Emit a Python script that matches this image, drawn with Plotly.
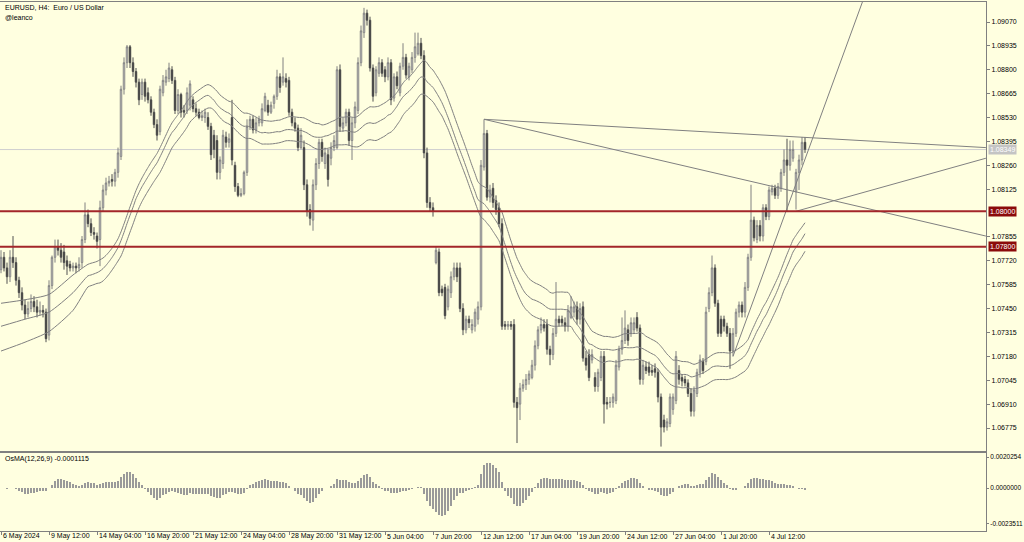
import plotly.graph_objects as go
import pandas as pd

# ---------------- data (EURUSD H4) ----------------
opens = [1.0767,1.0774,1.0768,1.0763,1.0774,1.0771,1.0761,1.0754,1.0747,1.0742,
 1.0745,1.0749,1.0746,1.0743,1.0744,1.0743,1.0730,1.0758,1.0774,1.0780,
 1.0778,1.0777,1.0772,1.0770,1.0768,1.0769,1.0768,1.0771,1.0784,1.0798,
 1.0793,1.0788,1.0786,1.0784,1.0802,1.0812,1.0816,1.0818,1.0817,1.0822,
 1.0831,1.0869,1.0884,1.0893,1.0884,1.0879,1.0873,1.0866,1.0873,1.0867,
 1.0863,1.0856,1.0849,1.0845,1.0867,1.0873,1.0875,1.0880,1.0874,1.0857,
 1.0866,1.0857,1.0857,1.0860,1.0863,1.0858,1.0856,1.0853,1.0853,1.0853,
 1.0848,1.0843,1.0840,1.0822,1.0827,1.0842,1.0839,1.0853,1.0826,1.0814,
 1.0809,1.0810,1.0822,1.0848,1.0852,1.0846,1.0850,1.0850,1.0857,1.0860,
 1.0856,1.0861,1.0865,1.0876,1.0873,1.0875,1.0874,1.0856,1.0850,1.0847,
 1.0836,1.0836,1.0815,1.0801,1.0795,1.0815,1.0827,1.0839,1.0827,1.0832,
 1.0830,1.0836,1.0836,1.0880,1.0847,1.0850,1.0856,1.0840,1.0850,1.0857,
 1.0884,1.0901,1.0912,1.0908,1.0881,1.0867,1.0878,1.0884,1.0880,1.0876,
 1.0884,1.0864,1.0876,1.0867,1.0882,1.0887,1.0876,1.0880,1.0887,1.0889,
 1.0895,1.0888,1.0833,1.0805,1.0802,1.0771,1.0777,1.0756,1.0757,1.0746,
 1.0754,1.0763,1.0768,1.0768,1.0745,1.0733,1.0739,1.0733,1.0735,1.0739,
 1.0746,1.0825,1.0844,1.0808,1.0813,1.0806,1.0802,1.0793,1.0736,1.0735,
 1.0736,1.0736,1.0692,1.0691,1.0700,1.0702,1.0705,1.0706,1.0713,1.0724,
 1.0733,1.0736,1.0736,1.0722,1.0719,1.0731,1.0739,1.0739,1.0737,1.0735,
 1.0740,1.0743,1.0746,1.0739,1.0746,1.0717,1.0719,1.0716,1.0706,1.0701,
 1.0706,1.0718,1.0692,1.0692,1.0692,1.0693,1.0712,1.0722,1.0727,1.0733,
 1.0731,1.0733,1.0740,1.0734,1.0705,1.0712,1.0712,1.0710,1.0711,1.0709,
 1.0695,1.0682,1.0678,1.0680,1.0688,1.0693,1.0710,1.0706,1.0705,1.0703,
 1.0697,1.0687,1.0697,1.0709,1.0715,1.0715,1.0745,1.0754,1.0768,1.0748,
 1.0739,1.0739,1.0735,1.0731,1.0721,1.0731,1.0743,1.0747,1.0743,1.0757,
 1.0774,1.0795,1.0784,1.0792,1.0786,1.0802,1.0797,1.0811,1.0813,1.0809,
 1.0813,1.0822,1.0829,1.0826,1.0830,1.0811,1.0822,1.0829,1.0839]

highs = [1.0778,1.0777,1.0771,1.0778,1.0786,1.0774,1.0763,1.0757,1.0750,1.0749,
 1.0753,1.0752,1.0750,1.0749,1.0747,1.0745,1.0761,1.0775,1.0784,1.0784,
 1.0782,1.0781,1.0775,1.0772,1.0771,1.0771,1.0774,1.0786,1.0805,1.0801,
 1.0796,1.0791,1.0788,1.0806,1.0815,1.0819,1.0820,1.0821,1.0824,1.0836,
 1.0871,1.0887,1.0894,1.0894,1.0887,1.0881,1.0875,1.0875,1.0875,1.0870,
 1.0865,1.0858,1.0852,1.0871,1.0877,1.0880,1.0884,1.0882,1.0876,1.0869,
 1.0867,1.0860,1.0870,1.0874,1.0865,1.0861,1.0858,1.0857,1.0858,1.0856,
 1.0850,1.0846,1.0843,1.0831,1.0846,1.0845,1.0844,1.0863,1.0828,1.0816,
 1.0813,1.0823,1.0852,1.0854,1.0854,1.0853,1.0854,1.0861,1.0867,1.0863,
 1.0862,1.0866,1.0880,1.0878,1.0887,1.0878,1.0876,1.0858,1.0853,1.0849,
 1.0847,1.0840,1.0818,1.0804,1.0818,1.0830,1.0841,1.0841,1.0836,1.0835,
 1.0839,1.0843,1.0882,1.0883,1.0853,1.0858,1.0858,1.0853,1.0862,1.0887,
 1.0905,1.0915,1.0914,1.0910,1.0883,1.0882,1.0887,1.0886,1.0882,1.0887,
 1.0886,1.0878,1.0879,1.0884,1.0895,1.0889,1.0884,1.0890,1.0901,1.0901,
 1.0898,1.0891,1.0836,1.0808,1.0805,1.0780,1.0779,1.0758,1.0759,1.0758,
 1.0766,1.0771,1.0771,1.0771,1.0748,1.0741,1.0741,1.0739,1.0745,1.0749,
 1.0829,1.0852,1.0846,1.0815,1.0816,1.0809,1.0805,1.0796,1.0738,1.0738,
 1.0738,1.0739,1.0695,1.0703,1.0705,1.0708,1.0710,1.0716,1.0727,1.0735,
 1.0740,1.0739,1.0739,1.0724,1.0734,1.0760,1.0741,1.0741,1.0740,1.0747,
 1.0752,1.0749,1.0749,1.0748,1.0749,1.0721,1.0722,1.0722,1.0709,1.0711,
 1.0721,1.0721,1.0695,1.0695,1.0697,1.0716,1.0724,1.0740,1.0744,1.0736,
 1.0740,1.0740,1.0743,1.0736,1.0716,1.0715,1.0715,1.0713,1.0714,1.0711,
 1.0697,1.0685,1.0683,1.0697,1.0697,1.0721,1.0713,1.0708,1.0707,1.0705,
 1.0700,1.0701,1.0711,1.0719,1.0717,1.0746,1.0757,1.0775,1.0770,1.0750,
 1.0741,1.0741,1.0737,1.0734,1.0734,1.0745,1.0749,1.0749,1.0760,1.0776,
 1.0815,1.0797,1.0795,1.0795,1.0804,1.0804,1.0814,1.0815,1.0815,1.0816,
 1.0824,1.0835,1.0841,1.0840,1.0840,1.0824,1.0832,1.0842,1.0842]

lows = [1.0765,1.0766,1.0759,1.0760,1.0768,1.0758,1.0751,1.0744,1.0739,1.0740,
 1.0743,1.0743,1.0740,1.0741,1.0740,1.0726,1.0727,1.0756,1.0771,1.0775,
 1.0771,1.0767,1.0764,1.0766,1.0766,1.0765,1.0766,1.0768,1.0782,1.0791,
 1.0786,1.0784,1.0779,1.0769,1.0800,1.0809,1.0814,1.0814,1.0814,1.0819,
 1.0829,1.0866,1.0881,1.0881,1.0876,1.0870,1.0860,1.0863,1.0862,1.0861,
 1.0854,1.0847,1.0840,1.0843,1.0865,1.0871,1.0873,1.0872,1.0855,1.0855,
 1.0853,1.0853,1.0855,1.0857,1.0856,1.0854,1.0852,1.0851,1.0850,1.0846,
 1.0829,1.0830,1.0818,1.0818,1.0824,1.0836,1.0836,1.0826,1.0811,1.0808,
 1.0808,1.0809,1.0820,1.0846,1.0844,1.0844,1.0848,1.0848,1.0856,1.0854,
 1.0855,1.0858,1.0863,1.0867,1.0871,1.0870,1.0854,1.0848,1.0845,1.0834,
 1.0835,1.0812,1.0797,1.0792,1.0789,1.0812,1.0824,1.0828,1.0824,1.0814,
 1.0826,1.0834,1.0835,1.0845,1.0845,1.0848,1.0837,1.0829,1.0847,1.0855,
 1.0882,1.0898,1.0905,1.0879,1.0862,1.0865,1.0876,1.0876,1.0873,1.0874,
 1.0860,1.0862,1.0869,1.0865,1.0880,1.0875,1.0874,1.0878,1.0884,1.0888,
 1.0886,1.0830,1.0802,1.0800,1.0797,1.0770,1.0752,1.0752,1.0739,1.0744,
 1.0751,1.0761,1.0760,1.0743,1.0730,1.0731,1.0734,1.0731,1.0732,1.0736,
 1.0744,1.0823,1.0806,1.0805,1.0802,1.0798,1.0791,1.0733,1.0733,1.0733,
 1.0733,1.0689,1.0669,1.0682,1.0698,1.0699,1.0702,1.0705,1.0710,1.0722,
 1.0731,1.0732,1.0719,1.0713,1.0716,1.0729,1.0735,1.0735,1.0732,1.0732,
 1.0739,1.0740,1.0736,1.0736,1.0715,1.0710,1.0704,1.0714,1.0698,1.0698,
 1.0704,1.0680,1.0688,1.0689,1.0689,1.0691,1.0710,1.0719,1.0725,1.0724,
 1.0729,1.0731,1.0732,1.0702,1.0702,1.0708,1.0707,1.0707,1.0706,1.0692,
 1.0667,1.0675,1.0676,1.0678,1.0685,1.0691,1.0702,1.0701,1.0701,1.0695,
 1.0684,1.0684,1.0695,1.0706,1.0708,1.0713,1.0743,1.0752,1.0746,1.0729,
 1.0729,1.0732,1.0729,1.0711,1.0718,1.0729,1.0740,1.0740,1.0740,1.0755,
 1.0772,1.0783,1.0782,1.0783,1.0783,1.0795,1.0795,1.0809,1.0807,1.0807,
 1.0811,1.0820,1.0800,1.0823,1.0828,1.0801,1.0812,1.0826,1.0833]

closes = [1.0774,1.0768,1.0763,1.0774,1.0771,1.0761,1.0754,1.0747,1.0742,1.0745,
 1.0749,1.0746,1.0743,1.0744,1.0743,1.0728,1.0758,1.0774,1.0780,1.0778,
 1.0774,1.0771,1.0769,1.0768,1.0769,1.0768,1.0770,1.0784,1.0798,1.0793,
 1.0788,1.0787,1.0783,1.0802,1.0812,1.0816,1.0817,1.0817,1.0822,1.0833,
 1.0869,1.0884,1.0893,1.0884,1.0879,1.0873,1.0863,1.0873,1.0865,1.0863,
 1.0856,1.0849,1.0843,1.0869,1.0874,1.0876,1.0881,1.0874,1.0857,1.0866,
 1.0856,1.0856,1.0867,1.0872,1.0858,1.0856,1.0853,1.0854,1.0856,1.0848,
 1.0832,1.0835,1.0822,1.0829,1.0843,1.0839,1.0841,1.0829,1.0814,1.0809,
 1.0810,1.0822,1.0848,1.0852,1.0846,1.0850,1.0852,1.0858,1.0865,1.0856,
 1.0860,1.0865,1.0876,1.0870,1.0876,1.0873,1.0856,1.0850,1.0847,1.0836,
 1.0843,1.0815,1.0800,1.0796,1.0815,1.0827,1.0839,1.0831,1.0833,1.0818,
 1.0836,1.0840,1.0880,1.0848,1.0850,1.0856,1.0840,1.0850,1.0859,1.0884,
 1.0902,1.0912,1.0908,1.0881,1.0865,1.0880,1.0884,1.0878,1.0876,1.0884,
 1.0863,1.0876,1.0871,1.0882,1.0887,1.0877,1.0882,1.0887,1.0893,1.0895,
 1.0888,1.0833,1.0805,1.0802,1.0800,1.0778,1.0754,1.0754,1.0741,1.0756,
 1.0763,1.0768,1.0763,1.0745,1.0733,1.0739,1.0737,1.0736,1.0743,1.0746,
 1.0826,1.0844,1.0808,1.0812,1.0805,1.0801,1.0793,1.0735,1.0735,1.0736,
 1.0735,1.0692,1.0689,1.0700,1.0702,1.0705,1.0708,1.0713,1.0724,1.0733,
 1.0736,1.0734,1.0722,1.0719,1.0731,1.0739,1.0737,1.0737,1.0735,1.0744,
 1.0746,1.0746,1.0739,1.0745,1.0717,1.0713,1.0706,1.0719,1.0701,1.0709,
 1.0718,1.0691,1.0691,1.0692,1.0695,1.0713,1.0722,1.0727,1.0734,1.0727,
 1.0737,1.0737,1.0734,1.0705,1.0713,1.0710,1.0709,1.0709,1.0709,1.0695,
 1.0678,1.0678,1.0681,1.0695,1.0695,1.0718,1.0705,1.0704,1.0703,1.0697,
 1.0687,1.0699,1.0709,1.0716,1.0710,1.0743,1.0754,1.0768,1.0748,1.0731,
 1.0731,1.0735,1.0731,1.0721,1.0731,1.0743,1.0747,1.0743,1.0757,1.0774,
 1.0795,1.0785,1.0792,1.0786,1.0802,1.0797,1.0812,1.0813,1.0809,1.0814,
 1.0822,1.0829,1.0826,1.0835,1.0835,1.0822,1.0829,1.0839,1.0835]

# MA(30) channel values at the left edge (before 30 bars exist)
ma_lead_bars = [0, 8, 16, 24]
ma_lead_upper = [1.0748, 1.0750, 1.0753, 1.0764]
ma_lead_mid = [1.0735, 1.0739, 1.0743, 1.0754]
ma_lead_lower = [1.0721, 1.0726, 1.0732, 1.0744]
ma_period = 30

# support levels, current bid
levels = [1.08000, 1.07800]
level_labels = ["1.08000", "1.07800"]
bid = 1.08349
osma_label = "OsMA(12,26,9) -0.0001115"

# trendlines: (bar index, price) anchor pairs
trend_bars = [[161, 328.3], [161, 328.3], [265, 328.3], [244, 287.5]]
trend_prices = [[1.0852, 1.0836], [1.0852, 1.0786], [1.0800, 1.0830], [1.0718, 1.0920]]

# axis labels
price_ticks = [1.09070, 1.08935, 1.08800, 1.08665, 1.08530, 1.08395, 1.08260, 1.08125,
               1.07855, 1.07720, 1.07585, 1.07450, 1.07315, 1.07180, 1.07045, 1.06910, 1.06775]
osma_ticks = [0.0020254, 0.0, -0.0023511]
osma_tick_text = ["0.0020254", "0.0000000", "-0.0023511"]
time_label_bars = [0, 16, 32, 48, 64, 80, 96, 112, 128, 144, 160, 176, 192, 208, 224, 240, 256]
time_labels = ["6 May 2024", "9 May 12:00", "14 May 04:00", "16 May 20:00", "21 May 12:00",
               "24 May 04:00", "28 May 20:00", "31 May 12:00", "5 Jun 04:00", "7 Jun 20:00",
               "12 Jun 12:00", "17 Jun 04:00", "19 Jun 20:00", "24 Jun 12:00", "27 Jun 04:00",
               "1 Jul 20:00", "4 Jul 12:00"]

# ---------------- indicators ----------------
n = len(closes)
bars = list(range(n))
c = pd.Series(closes)
h = pd.Series(highs)
l = pd.Series(lows)
ma_up = h.rolling(ma_period).mean()
ma_mid = c.rolling(ma_period).mean()
ma_lo = l.rolling(ma_period).mean()
start = ma_period - 1
ma_x = ma_lead_bars + bars[start:]
up_y = ma_lead_upper + ma_up[start:].tolist()
mid_y = ma_lead_mid + ma_mid[start:].tolist()
lo_y = ma_lead_lower + ma_lo[start:].tolist()

ema_fast = c.ewm(span=12, adjust=False).mean()
ema_slow = c.ewm(span=26, adjust=False).mean()
macd = ema_fast - ema_slow
signal = macd.rolling(9, min_periods=1).mean()
osma = (macd - signal).tolist()

# ---------------- figure ----------------
W, H = 1024, 542
BG = "#FFFFE0"
GRAY = "#808080"
FONT = "Liberation Sans"
FS = 7
FS_OS = 6.5

fig = go.Figure()

for ys in (up_y, mid_y, lo_y):
    fig.add_trace(go.Scatter(x=ma_x, y=ys, mode="lines",
                             line=dict(color=GRAY, width=1, shape="spline", smoothing=0.6),
                             xaxis="x", yaxis="y", hoverinfo="skip"))

for tb, tp in zip(trend_bars, trend_prices):
    fig.add_trace(go.Scatter(x=tb, y=tp, mode="lines", line=dict(color=GRAY, width=1),
                             xaxis="x", yaxis="y", hoverinfo="skip", cliponaxis=True))

fig.add_trace(go.Candlestick(
    x=bars, open=opens, high=highs, low=lows, close=closes,
    increasing=dict(fillcolor="#FFFFFF", line=dict(color=GRAY, width=1)),
    decreasing=dict(fillcolor="#000000", line=dict(color="#505050", width=1)),
    whiskerwidth=0, xaxis="x", yaxis="y", hoverinfo="skip"))

fig.add_trace(go.Bar(x=bars, y=osma, width=0.34, marker=dict(color="#9A9A9A", line=dict(width=0)),
                     xaxis="x2", yaxis="y2", hoverinfo="skip"))

# domains in pixels
def ydom(top_px, bot_px):
    return [1 - bot_px / H, 1 - top_px / H]

plot_w = 986
xr = [-1 / 3, (plot_w - 1) / 3]

main_top, main_bot = 2, 451
os_top, os_bot = 453, 531
# price range from axis geometry (1.09070 at y=22, 1.06775 at y=428)
ppx = (1.09070 - 1.06775) / (428 - 22)
yr_main = [1.09070 - (main_bot - 22) * ppx, 1.09070 + (22 - main_top) * ppx]
opx = 0.0020254 / (488 - 457)
yr_os = [-(os_bot - 488) * opx, (488 - os_top) * opx]

axis_common = dict(showgrid=False, zeroline=False, showline=True, linecolor=GRAY, linewidth=1,
                   mirror=True, fixedrange=True, automargin=False)

fig.update_layout(
    width=W, height=H, autosize=False,
    margin=dict(l=0, r=W - plot_w, t=0, b=0, pad=0),
    paper_bgcolor=BG, plot_bgcolor=BG,
    showlegend=False, hovermode=False,
    font=dict(family=FONT, size=FS, color="#000000"),
    xaxis=dict(domain=[0, 1], range=xr, anchor="y", showticklabels=False, ticks="",
               rangeslider=dict(visible=False), **axis_common),
    yaxis=dict(domain=ydom(main_top, main_bot), range=yr_main, side="right", anchor="x",
               tickmode="array", tickvals=price_ticks, ticktext=[f"{v:.5f}" for v in price_ticks],
               ticks="outside", ticklen=3, tickcolor=GRAY, tickfont=dict(size=FS, family=FONT),
               **axis_common),
    xaxis2=dict(domain=[0, 1], range=xr, anchor="y2", showticklabels=False,
                tickmode="array", tickvals=time_label_bars, ticks="outside", ticklen=3,
                tickcolor=GRAY, **axis_common),
    yaxis2=dict(domain=ydom(os_top, os_bot), range=yr_os, side="right", anchor="x2",
                tickmode="array", tickvals=osma_ticks, ticktext=osma_tick_text,
                ticks="outside", ticklen=2, tickcolor=GRAY, tickfont=dict(size=FS_OS, family=FONT),
                **axis_common),
    bargap=0,
)

# current bid line
fig.add_shape(type="line", xref="paper", x0=0, x1=1, yref="y", y0=bid, y1=bid,
              line=dict(color="#CFCFCF", width=1), layer="below")
# support levels
for lv in levels:
    fig.add_shape(type="line", xref="paper", x0=0, x1=1, yref="y", y0=lv, y1=lv,
                  line=dict(color="#A3262A", width=2))

annotations = []
for lv, txt in zip(levels, level_labels):
    annotations.append(dict(x=1, xref="paper", y=lv, yref="y", text=txt, showarrow=False,
                            xanchor="left", xshift=2, bgcolor="#8B0A0A",
                            font=dict(color="#FFFFFF", size=FS, family=FONT), borderpad=1))
annotations.append(dict(x=1, xref="paper", y=bid, yref="y", text=f"{bid:.5f}", showarrow=False,
                        xanchor="left", xshift=2, bgcolor="#C4C4C4",
                        font=dict(color="#FFFFFF", size=FS, family=FONT), borderpad=1))
for b, t in zip(time_label_bars, time_labels):
    annotations.append(dict(x=b, xref="x2", y=1 - 536 / H, yref="paper", text=t, showarrow=False,
                            xanchor="left", yanchor="middle", xshift=0,
                            font=dict(size=FS, family=FONT, color="#000000")))
annotations.append(dict(x=3 / plot_w, xref="paper", y=1 - 7 / H, yref="paper",
                        text="EURUSD, H4:  Euro / US Dollar", showarrow=False,
                        xanchor="left", yanchor="middle", font=dict(size=FS, family=FONT)))
annotations.append(dict(x=3 / plot_w, xref="paper", y=1 - 17 / H, yref="paper",
                        text="@leanco", showarrow=False,
                        xanchor="left", yanchor="middle", font=dict(size=FS, family=FONT)))
annotations.append(dict(x=3 / plot_w, xref="paper", y=1 - 459 / H, yref="paper",
                        text=osma_label, showarrow=False,
                        xanchor="left", yanchor="middle", font=dict(size=FS, family=FONT)))
fig.update_layout(annotations=annotations)

fig.write_html("out.html", config={"displayModeBar": False, "staticPlot": True}, post_script=[
    "document.body.style.margin='0';document.body.style.padding='0';"
    "document.body.style.overflow='hidden';"])
